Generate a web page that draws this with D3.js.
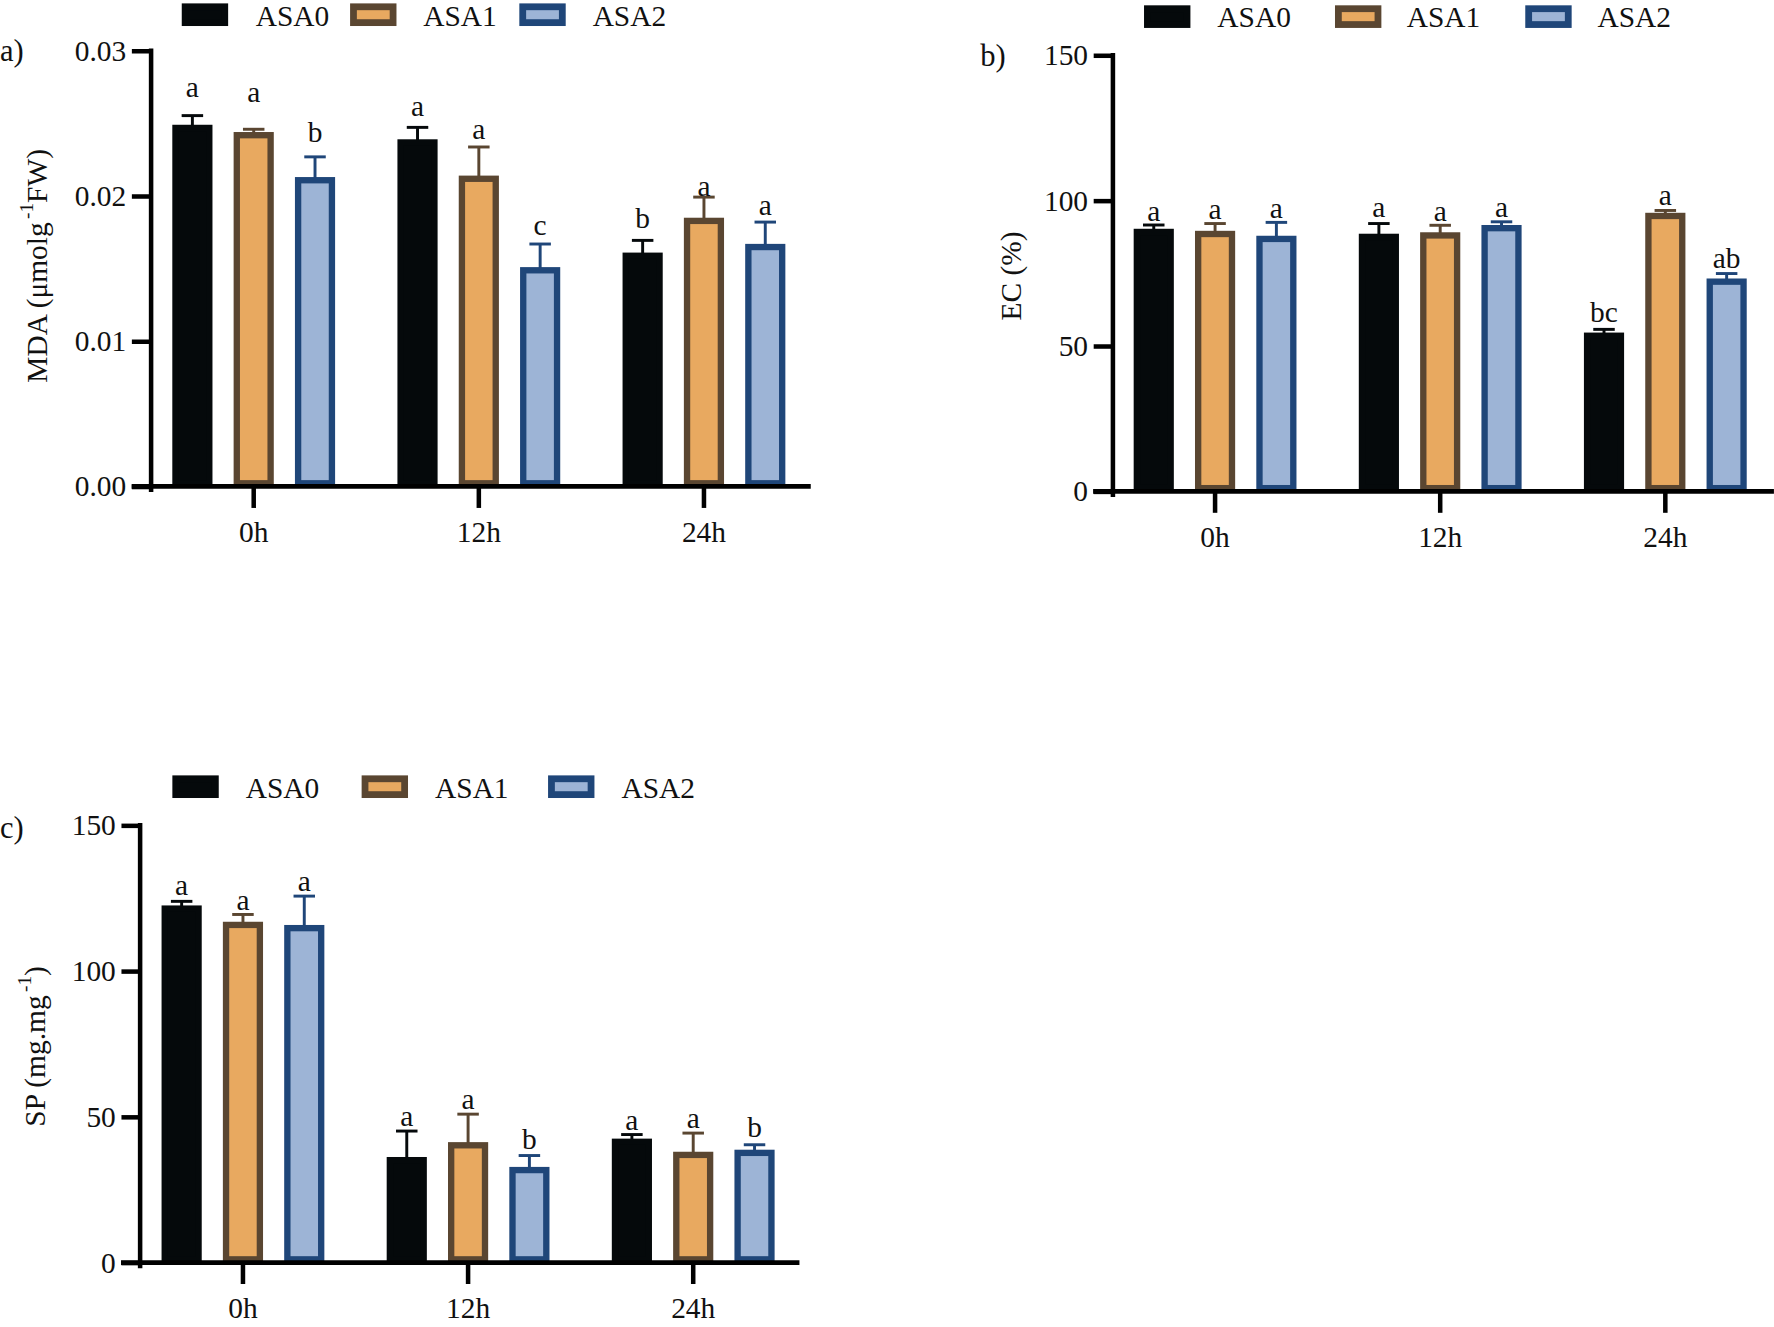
<!DOCTYPE html>
<html><head><meta charset="utf-8">
<script src="https://cdn.jsdelivr.net/npm/d3@7/dist/d3.min.js"></script>
<style>html,body{margin:0;padding:0;background:#fff;} svg{display:block;}</style>
</head><body>
<svg id="chart" width="1774" height="1327" viewBox="0 0 1568 1173"></svg>
<script>
// ---------- data ----------
const hours = ["0h", "12h", "24h"];
const seriesNames = ["ASA0", "ASA1", "ASA2"];

// a) MDA
const mdaASA0 = [0.0249, 0.0239, 0.0161];
const mdaASA1 = [0.0244, 0.0214, 0.0185];
const mdaASA2 = [0.0213, 0.0151, 0.0167];
const mdaErrASA0 = [0.00063, 0.00082, 0.00084];
const mdaErrASA1 = [0.00019, 0.00197, 0.00142];
const mdaErrASA2 = [0.00139, 0.00159, 0.00150];
const mdaSigASA0 = ["a", "a", "b"];
const mdaSigASA1 = ["a", "a", "a"];
const mdaSigASA2 = ["b", "c", "a"];
const mdaSigAtASA0 = [0.0268, 0.0255, 0.0178];
const mdaSigAtASA1 = [0.0265, 0.0239, 0.0200];
const mdaSigAtASA2 = [0.0237, 0.0173, 0.0187];
const mdaTicks = [0, 0.01, 0.02, 0.03];

// b) EC
const ecASA0 = [90.3, 88.6, 54.6];
const ecASA1 = [89.6, 89.1, 95.8];
const ecASA2 = [87.9, 91.6, 73.2];
const ecErrASA0 = [1.3, 3.5, 1.1];
const ecErrASA1 = [2.5, 2.4, 0.8];
const ecErrASA2 = [4.6, 1.1, 1.7];
const ecSigASA0 = ["a", "a", "bc"];
const ecSigASA1 = ["a", "a", "a"];
const ecSigASA2 = ["a", "a", "ab"];
const ecSigAtASA0 = [93.1, 94.3, 58.2];
const ecSigAtASA1 = [93.7, 93.1, 98.6];
const ecSigAtASA2 = [94.0, 94.5, 76.9];
const ecTicks = [0, 50, 100, 150];

// c) SP
const spASA0 = [122.5, 36.2, 42.5];
const spASA1 = [116.9, 41.3, 38.0];
const spASA2 = [115.8, 32.8, 38.7];
const spErrASA0 = [1.4, 8.9, 1.4];
const spErrASA1 = [2.5, 9.6, 6.4];
const spErrASA2 = [9.9, 3.9, 1.7];
const spSigASA0 = ["a", "a", "a"];
const spSigASA1 = ["a", "a", "a"];
const spSigASA2 = ["a", "b", "b"];
const spSigAtASA0 = [126.1, 46.7, 45.4];
const spSigAtASA1 = [120.9, 52.5, 46.3];
const spSigAtASA2 = [127.4, 39.0, 42.9];
const spTicks = [0, 50, 100, 150];

// ---------- styles ----------
const FONT = "'Liberation Serif', 'Times New Roman', serif";
const FS = 26;
const colors = {
  ASA0: { fill: "#05090b", stroke: "#05090b" },
  ASA1: { fill: "#e8a960", stroke: "#5a4631" },
  ASA2: { fill: "#9db4d6", stroke: "#1f4679" }
};
const BAR_W = 35.5, BAR_SW = 5.6, GROUP_STEP = 199, INNER_OFF = 54.2, CAP = 9.5;

const svg = d3.select("#chart");

const panels = [
  {
    label: "a)", labelX: 0, labelY: 54,
    values: [mdaASA0, mdaASA1, mdaASA2], errs: [mdaErrASA0, mdaErrASA1, mdaErrASA2],
    sig: [mdaSigASA0, mdaSigASA1, mdaSigASA2], sigAt: [mdaSigAtASA0, mdaSigAtASA1, mdaSigAtASA2],
    domain: [0, 0.03], ticks: mdaTicks, fmt: d3.format(".2f"),
    yTop: 44.8, yZero: 430, axisX: 133.5, tickLen: 17, c0: 224.2, xL: 116.3, xR: 716.6,
    title: ["MDA (μmolg", "-1", "FW)"], titleX: 33, titleY: 235,
    legendBoxX: [160.6, 309.4, 459], legendTextX: [226, 374, 523.8], legendTop: 3, legendBase: 22.7
  },
  {
    label: "b)", labelX: 866.4, labelY: 58.5,
    values: [ecASA0, ecASA1, ecASA2], errs: [ecErrASA0, ecErrASA1, ecErrASA2],
    sig: [ecSigASA0, ecSigASA1, ecSigASA2], sigAt: [ecSigAtASA0, ecSigAtASA1, ecSigAtASA2],
    domain: [0, 150], ticks: ecTicks, fmt: d3.format("d"),
    yTop: 48.8, yZero: 434.3, axisX: 983.7, tickLen: 17, c0: 1074, xL: 966.2, xR: 1568,
    title: ["EC (%)"], titleX: 894, titleY: 244,
    legendBoxX: [1011.2, 1180, 1348.2], legendTextX: [1076, 1243.4, 1412], legendTop: 4.7, legendBase: 23.6
  },
  {
    label: "c)", labelX: 0, labelY: 741,
    values: [spASA0, spASA1, spASA2], errs: [spErrASA0, spErrASA1, spErrASA2],
    sig: [spSigASA0, spSigASA1, spSigASA2], sigAt: [spSigAtASA0, spSigAtASA1, spSigAtASA2],
    domain: [0, 150], ticks: spTicks, fmt: d3.format("d"),
    yTop: 729.5, yZero: 1116, axisX: 123.8, tickLen: 16.5, c0: 214.7, xL: 106.9, xR: 706.6,
    title: ["SP (mg.mg", "-1", ")"], titleX: 31, titleY: 925,
    legendBoxX: [152.3, 319.6, 484.4], legendTextX: [217.2, 384.5, 549.3], legendTop: 685.4, legendBase: 705.2
  }
];

function drawPanel(p) {
  const g = svg.append("g");
  const y = d3.scaleLinear().domain(p.domain).range([p.yZero, p.yTop]);
  const x0 = d3.scaleBand().domain(hours)
    .range([p.c0 - GROUP_STEP / 2, p.c0 - GROUP_STEP / 2 + GROUP_STEP * hours.length]).padding(0);
  const x1 = d3.scalePoint().domain(seriesNames).range([-INNER_OFF, INNER_OFF]);
  const cxOf = (h, s) => x0(h) + x0.bandwidth() / 2 + x1(s);

  const rows = [];
  seriesNames.forEach((s, i) => hours.forEach((h, j) => rows.push({
    s, h, v: p.values[i][j], e: p.errs[i][j], sig: p.sig[i][j], sigAt: p.sigAt[i][j]
  })));

  // error bars
  const eb = g.append("g");
  rows.forEach(d => {
    const cx = cxOf(d.h, d.s);
    const c = colors[d.s].stroke;
    eb.append("line").attr("x1", cx).attr("x2", cx).attr("y1", y(d.v) + 2).attr("y2", y(d.v + d.e))
      .attr("stroke", c).attr("stroke-width", 2.6);
    eb.append("line").attr("x1", cx - CAP).attr("x2", cx + CAP).attr("y1", y(d.v + d.e)).attr("y2", y(d.v + d.e))
      .attr("stroke", c).attr("stroke-width", 2.6);
  });

  // bars
  g.append("g").selectAll("rect").data(rows).join("rect")
    .attr("x", d => cxOf(d.h, d.s) - (BAR_W - BAR_SW) / 2)
    .attr("y", d => y(d.v) + BAR_SW / 2)
    .attr("width", BAR_W - BAR_SW)
    .attr("height", d => Math.max(0, p.yZero - y(d.v) - BAR_SW))
    .attr("fill", d => colors[d.s].fill)
    .attr("stroke", d => colors[d.s].stroke)
    .attr("stroke-width", BAR_SW);

  // significance letters
  g.append("g").selectAll("text").data(rows).join("text")
    .attr("x", d => cxOf(d.h, d.s))
    .attr("y", d => y(d.sigAt))
    .attr("text-anchor", "middle")
    .attr("font-family", FONT).attr("font-size", FS).attr("fill", "#111")
    .text(d => d.sig);

  // y axis
  const ya = g.append("g").attr("transform", `translate(${p.axisX},0)`)
    .call(d3.axisLeft(y).tickValues(p.ticks).tickSize(p.tickLen).tickPadding(5).tickFormat(p.fmt));
  ya.select(".domain").remove();
  ya.selectAll(".tick line").attr("stroke", "#000").attr("stroke-width", 4);
  ya.selectAll(".tick text").attr("font-family", FONT).attr("font-size", FS).attr("fill", "#111");
  g.append("line").attr("x1", p.axisX).attr("x2", p.axisX).attr("y1", p.yTop - 2).attr("y2", p.yZero + 5)
    .attr("stroke", "#000").attr("stroke-width", 4);

  // x axis
  const xa = g.append("g").attr("transform", `translate(0,${p.yZero})`)
    .call(d3.axisBottom(x0).tickSize(19).tickPadding(11.5));
  xa.select(".domain").remove();
  xa.selectAll(".tick line").attr("stroke", "#000").attr("stroke-width", 4);
  xa.selectAll(".tick text").attr("font-family", FONT).attr("font-size", FS).attr("fill", "#111");
  g.append("line").attr("x1", p.xL).attr("x2", p.xR).attr("y1", p.yZero).attr("y2", p.yZero)
    .attr("stroke", "#000").attr("stroke-width", 4.2);

  // y title
  const t = g.append("text")
    .attr("transform", `translate(${p.titleX},${p.titleY}) rotate(-90)`)
    .attr("text-anchor", "middle").attr("dominant-baseline", "central")
    .attr("font-family", FONT).attr("font-size", FS).attr("fill", "#111");
  if (p.title.length === 1) {
    t.text(p.title[0]);
  } else {
    t.append("tspan").text(p.title[0]);
    t.append("tspan").attr("font-size", 17).attr("dy", -10).attr("dx", 3).text(p.title[1]);
    t.append("tspan").attr("dy", 10).text(p.title[2]);
  }

  // panel label
  g.append("text").attr("x", p.labelX).attr("y", p.labelY)
    .attr("font-family", FONT).attr("font-size", FS + 1).attr("fill", "#111").text(p.label);

  // legend
  const lg = g.append("g");
  seriesNames.forEach((s, i) => {
    const lsw = 6;
    lg.append("rect")
      .attr("x", p.legendBoxX[i] + lsw / 2).attr("y", p.legendTop + lsw / 2)
      .attr("width", 41 - lsw).attr("height", 20 - lsw)
      .attr("fill", colors[s].fill).attr("stroke", colors[s].stroke).attr("stroke-width", lsw);
    lg.append("text").attr("x", p.legendTextX[i]).attr("y", p.legendBase)
      .attr("font-family", FONT).attr("font-size", FS).attr("fill", "#111").text(s);
  });
}

panels.forEach(drawPanel);
</script>
</body></html>
